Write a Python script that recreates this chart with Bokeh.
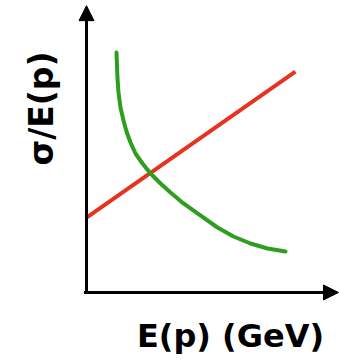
import numpy as np
from bokeh.plotting import figure
from bokeh.models import Range1d, Arrow, NormalHead, Label
from bokeh.embed import file_html
from bokeh.resources import INLINE

# Data (arbitrary units)
red_x = [0.0, 8.29]
red_y = [2.64, 7.78]

green_x = [1.190, 1.210, 1.230, 1.270, 1.349, 1.468, 1.587, 1.746, 1.944, 2.222,
           2.540, 2.937, 3.333, 3.849, 4.405, 5.198, 5.833, 6.508, 7.183, 7.897]
green_y = [8.451, 7.993, 7.535, 7.042, 6.514, 6.056, 5.669, 5.282, 4.894, 4.542,
           4.190, 3.838, 3.521, 3.134, 2.782, 2.289, 1.972, 1.725, 1.549, 1.444]

x_label = "E(p) (GeV)"
y_label = "σ/E(p)"

p = figure(width=339, height=361, output_backend="svg", toolbar_location=None,
           x_range=Range1d(-3.413, 10.04), y_range=Range1d(-2.43, 10.282),
           min_border=0)

p.axis.visible = False
p.grid.visible = False
p.outline_line_color = None
p.background_fill_color = "white"
p.border_fill_color = "white"

# Axes with arrow heads
p.add_layout(Arrow(end=NormalHead(size=15, fill_color="black", line_color="black"),
                   x_start=0, y_start=-0.05, x_end=0, y_end=10.1, line_width=3, line_color="black"))
p.add_layout(Arrow(end=NormalHead(size=15, fill_color="black", line_color="black"),
                   x_start=-0.1, y_start=0, x_end=10.0, y_end=0, line_width=3, line_color="black"))

# Curves
p.line(red_x, red_y, line_color="#e8321e", line_width=4)
p.line(green_x, green_y, line_color="#2e9e1e", line_width=4, line_join="round", line_cap="round")

# Axis labels
p.add_layout(Label(x=5.714, y=-1.54, text=x_label, text_align="center",
                   text_baseline="alphabetic", text_font="DejaVu Sans",
                   text_font_style="bold", text_font_size="32px", text_color="black"))
p.add_layout(Label(x=-1.78, y=6.48, text=y_label, angle=np.pi / 2, text_align="center",
                   text_baseline="alphabetic", text_font="DejaVu Sans",
                   text_font_style="bold", text_font_size="33px", text_color="black"))

open("out.html", "w").write(file_html(p, INLINE))
